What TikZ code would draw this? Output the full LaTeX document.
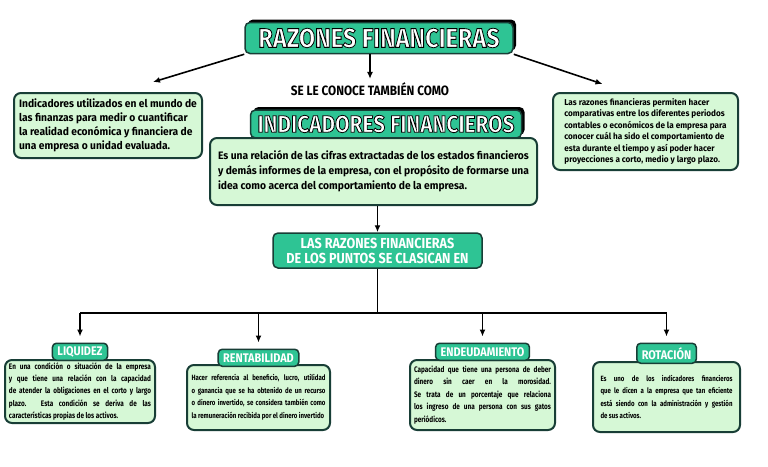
\documentclass[tikz,border=0pt]{standalone}
\usepackage{fontspec}
\setmainfont{Fira Sans}[FakeStretch=0.95]
\newfontfamily\headfont{Fira Sans}[FakeStretch=0.87]
\newfontfamily\narrowfont{Fira Sans}[FakeStretch=0.8]
\usepackage{xcolor}
\usetikzlibrary{arrows.meta, positioning, shadows}

\definecolor{mapteal}{RGB}{46,196,148}
\definecolor{mapmint}{RGB}{214,248,214}
\definecolor{mapline}{RGB}{24,62,54}

% white caps with a black rim
\newcommand{\outlined}[2][0.8]{{\color{white}\special{pdf:literal direct 0 G #1 w 2 Tr}#2\special{pdf:literal direct 0 Tr}}}

\begin{document}
\begin{tikzpicture}[x=1pt, y=-1pt,
  heading/.style={draw=mapline, line width=1.5pt, fill=mapteal, rounded corners=5pt, inner sep=0pt,
                  text=white},
  title/.style={heading, drop shadow={shadow xshift=3pt, shadow yshift=3pt, fill=black, opacity=1}},
  info/.style={draw=mapline, line width=2pt, fill=mapmint, rounded corners=7pt,
               inner sep=0pt, font=\bfseries},
  tag/.style={heading, rounded corners=4pt, inner xsep=5pt, inner ysep=0pt, minimum height=17pt,
              font={\headfont\bfseries\fontsize{12.5}{13}\selectfont}},
  arr/.style={-{Latex[length=7pt, width=6pt]}, line width=1.6pt},
]
  \fill[white] (0,0) rectangle (768,466);
  \useasboundingbox (0,0) rectangle (768,466);

  \node[title, minimum width=268pt, minimum height=31pt,
        font={\headfont\bfseries\fontsize{27}{28}\selectfont}] (razones) at (379,38)
        {\outlined{RAZONES FINANCIERAS}};

  \node[font={\headfont\bfseries\fontsize{13.5}{14}\selectfont}] (conoce) at (370,89)
        {SE LE CONOCE TAMBIÉN COMO};

  \node[info, minimum width=188pt, minimum height=65pt,
        font={\bfseries\fontsize{10.8}{14}\selectfont}, align=left] (usos) at (108,125.5)
        {Indicadores utilizados en el mundo de\\ las finanzas para medir o cuantificar\\
         la realidad económica y financiera de\\ una empresa o unidad evaluada.};

  \node[info, minimum width=185pt, minimum height=77pt,
        font={\bfseries\fontsize{8.6}{11.5}\selectfont}, align=left] (permite) at (645.5,131.5)
        {Las razones financieras permiten hacer\\ comparativas entre los diferentes periodos\\
         contables o económicos de la empresa para\\ conocer cuál ha sido el comportamiento de\\
         esta durante el tiempo y así poder hacer\\ proyecciones a corto, medio y largo plazo.};

  \node[title, minimum width=271pt, minimum height=28pt,
        font={\headfont\bfseries\fontsize{24}{25}\selectfont}] (indic) at (386,124)
        {\outlined{INDICADORES FINANCIEROS}};

  \node[info, minimum width=327pt, minimum height=67pt,
        font={\bfseries\fontsize{10.8}{15}\selectfont}, align=left] (relacion) at (373.5,171.5)
        {Es una relación de las cifras extractadas de los estados financieros\\
         y demás informes de la empresa, con el propósito de formarse una\\
         idea como acerca del comportamiento de la empresa.};

  \node[heading, minimum width=209pt, minimum height=35pt, align=center,
        font={\headfont\bfseries\fontsize{14.5}{15}\selectfont}] (clases) at (377.5,250.5)
        {LAS RAZONES FINANCIERAS\\ DE LOS PUNTOS SE CLASICAN EN};

  % categories
  \node[info, minimum width=150pt, minimum height=63pt, text width=142pt, align=justify,
        font={\narrowfont\bfseries\fontsize{8}{12.4}\selectfont}] (liqd) at (80,391.5)
        {En una condición o situación de la empresa\linebreak y que tiene una relación con la capacidad\linebreak
         de atender la obligaciones en el corto y largo\linebreak plazo. Esta condición se deriva de las\linebreak
         características propias de los activos.};
  \node[tag, above=-2pt of liqd] (liq) {LIQUIDEZ};

  \node[info, minimum width=143pt, minimum height=65pt, text width=134pt, align=justify,
        font={\narrowfont\bfseries\fontsize{7.6}{12.5}\selectfont}] (rentd) at (258.5,397.5)
        {Hacer referencia al beneficio, lucro, utilidad\linebreak o ganancia que se ha obtenido de un recurso\linebreak
         o dinero invertido, se considera también como\linebreak la remuneración recibida por el dinero invertido};
  \node[tag, above=-3pt of rentd] (rent) {RENTABILIDAD};

  \node[info, minimum width=145pt, minimum height=70pt, text width=137pt, align=justify,
        font={\narrowfont\bfseries\fontsize{8}{12.5}\selectfont}] (deudd) at (482.5,395)
        {Capacidad que tiene una persona de deber\linebreak dinero sin caer en la morosidad.\linebreak
         Se trata de un porcentaje que relaciona\linebreak los ingreso de una persona con sus gatos\linebreak
         periódicos.};
  \node[tag, above=-2pt of deudd] (deuda) {ENDEUDAMIENTO};

  \node[info, minimum width=147pt, minimum height=70pt, text width=132pt, align=justify,
        font={\narrowfont\bfseries\fontsize{7.6}{12.5}\selectfont}] (rotd) at (666.5,397)
        {Es uno de los indicadores financieros\linebreak que le dicen a la empresa que tan eficiente\linebreak
         está siendo con la administración y gestión\linebreak de sus activos.};
  \node[tag, minimum height=20pt, above=-3pt of rotd] (rota) {ROTACIÓN};

  % connectors
  \draw[arr] (razones.south west) -- ([xshift=45pt, yshift=10pt]usos.north);
  \draw[arr] (razones.south east) -- ([xshift=-43pt, yshift=8pt]permite.north);
  \draw[arr] (razones.south -| conoce) -- (conoce.north);
  \draw[arr] (relacion.south -| clases) -- (clases.north);

  \draw[line width=1.6pt] (clases.south) -- ++(0,44) coordinate (hub);
  \draw[line width=1.6pt] (hub -| liq) -- (hub -| rota);
  \foreach \t in {liq, rent, deuda, rota}
    \draw[arr, shorten >=6pt] (hub -| \t) -- (\t.north);
\end{tikzpicture}
\end{document}
